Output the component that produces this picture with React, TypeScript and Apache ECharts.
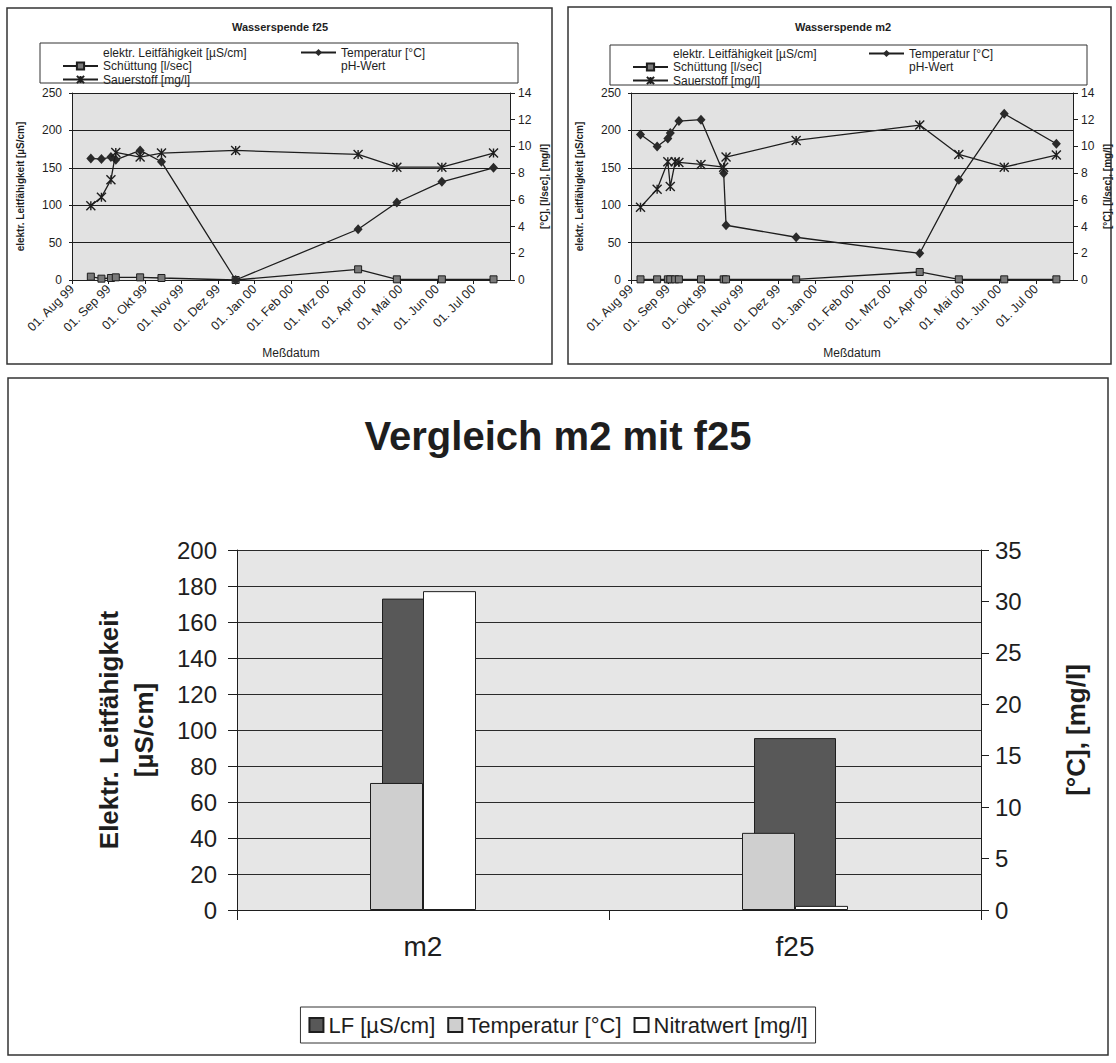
import React, { useEffect, useRef } from "react";
import * as echarts from "echarts";

// ---------- data ----------
const MONTH_LABELS = [
  "01. Aug 99", "01. Sep 99", "01. Okt 99", "01. Nov 99", "01. Dez 99", "01. Jan 00",
  "01. Feb 00", "01. Mrz 00", "01. Apr 00", "01. Mai 00", "01. Jun 00", "01. Jul 00",
];

const F25_DATES = [
  "1999-08-17", "1999-08-26", "1999-09-03", "1999-09-07", "1999-09-27", "1999-10-15",
  "1999-12-16", "2000-03-27", "2000-04-28", "2000-06-05", "2000-07-18",
];
const F25_TEMPERATUR = [9.1, 9.05, 9.2, 9.0, 9.7, 8.85, 0, 3.8, 5.8, 7.35, 8.4];
const F25_SCHUETTUNG = [0.25, 0.1, 0.15, 0.2, 0.2, 0.15, 0, 0.8, 0.05, 0.05, 0.05];
const F25_SAUERSTOFF = [5.55, 6.2, 7.5, 9.55, 9.2, 9.5, 9.7, 9.4, 8.45, 8.45, 9.5];

const M2_DATES = [
  "1999-08-09", "1999-08-23", "1999-09-01", "1999-09-03", "1999-09-07", "1999-09-10",
  "1999-09-28", "1999-10-17", "1999-10-19", "1999-12-16", "2000-03-27", "2000-04-28",
  "2000-06-05", "2000-07-18",
];
const M2_TEMPERATUR = [10.9, 10.0, 10.6, 11.0, null, 11.9, 12.0, 8.0, 4.1, 3.2, 2.0, 7.5, 12.45, 10.2];
const M2_SCHUETTUNG = [0.05, 0.05, 0.05, 0.05, 0.05, 0.05, 0.05, 0.05, 0.05, 0.05, 0.6, 0.05, 0.05, 0.05];
const M2_SAUERSTOFF = [5.45, 6.8, 8.85, 7.0, 8.85, 8.8, 8.65, 8.45, 9.2, 10.45, 11.6, 9.4, 8.45, 9.35];

const VERGLEICH_CATEGORIES = ["m2", "f25"];
const VERGLEICH_LF = [173, 95.5];
const VERGLEICH_TEMPERATUR = [12.35, 7.5];
const VERGLEICH_NITRAT = [31.0, 0.4];

// ---------- helpers ----------
const FONT = "'Liberation Sans', Arial, Helvetica, sans-serif";
const INK = "#1e1e1e";
const STAR = "path://M0,0L10,10M10,0L0,10M5,0L5,10";

function monthPos(d: string): number {
  const [y, m, day] = d.split("-").map(Number);
  const dim = new Date(y, m, 0).getDate();
  return (y - 1999) * 12 + (m - 8) + (day - 1) / dim;
}

function toPoints(dates: string[], vals: (number | null)[]) {
  const out: [number, number][] = [];
  dates.forEach((d, i) => {
    const v = vals[i];
    if (v != null) out.push([monthPos(d), v]);
  });
  return out;
}

const NAME_LF = "elektr. Leitfähigkeit [µS/cm]";
const NAME_T = "Temperatur [°C]";
const NAME_S = "Schüttung [l/sec]";
const NAME_PH = "pH-Wert";
const NAME_O = "Sauerstoff [mg/l]";

function topSeries(xi: number, yl: number, yr: number, dates: string[], temp: (number | null)[], sch: number[], sau: number[]) {
  const base = {
    type: "line",
    xAxisIndex: xi,
    showAllSymbol: true,
    lineStyle: { color: INK, width: 1.3 },
  };
  return [
    { ...base, name: NAME_LF, yAxisIndex: yl, data: [], symbol: "none", lineStyle: { opacity: 0 }, itemStyle: { opacity: 0 } },
    {
      ...base, name: NAME_T, yAxisIndex: yr, data: toPoints(dates, temp),
      symbol: "diamond", symbolSize: [9, 10], itemStyle: { color: "#2a2a2a" }, z: 4,
    },
    {
      ...base, name: NAME_S, yAxisIndex: yr, data: toPoints(dates, sch),
      symbol: "rect", symbolSize: 7, itemStyle: { color: "#7a7a7a", borderColor: INK, borderWidth: 1 }, z: 3,
    },
    { ...base, name: NAME_PH, yAxisIndex: yr, data: [], symbol: "none", lineStyle: { opacity: 0 }, itemStyle: { opacity: 0 } },
    {
      ...base, name: NAME_O, yAxisIndex: yr, data: toPoints(dates, sau),
      symbol: STAR, symbolSize: 9, itemStyle: { color: INK, borderColor: INK, borderWidth: 1.4 }, z: 5,
    },
  ];
}

function topXAxis(gi: number) {
  return {
    type: "value", gridIndex: gi, min: 0, max: 12, interval: 1,
    axisLine: { show: true, lineStyle: { color: INK, width: 1 } },
    axisTick: { show: true, length: 4, lineStyle: { color: INK } },
    splitLine: { show: false },
    axisLabel: {
      rotate: 45, fontSize: 12.5, color: INK, fontFamily: FONT, margin: 7,
      showMaxLabel: false,
      formatter: (v: number) => MONTH_LABELS[Math.round(v)] ?? "",
    },
    name: "Meßdatum", nameLocation: "middle", nameGap: 67,
    nameTextStyle: { fontSize: 12, color: INK, fontFamily: FONT },
  };
}

function topYAxes(gi: number) {
  return [
    {
      type: "value", gridIndex: gi, position: "left", min: 0, max: 250, interval: 50,
      axisLine: { show: true, lineStyle: { color: INK } },
      axisTick: { show: true, length: 3, lineStyle: { color: INK } },
      splitLine: { show: true, lineStyle: { color: INK, width: 1 } },
      axisLabel: { fontSize: 12, color: INK, fontFamily: FONT, margin: 10 },
      name: NAME_LF, nameLocation: "middle", nameGap: 47,
      nameTextStyle: { fontSize: 10, fontWeight: "bold", color: INK, fontFamily: FONT },
    },
    {
      type: "value", gridIndex: gi, position: "right", min: 0, max: 14, interval: 2,
      axisLine: { show: true, lineStyle: { color: INK } },
      axisTick: { show: true, length: 5, lineStyle: { color: INK } },
      splitLine: { show: false },
      axisLabel: { fontSize: 12, color: INK, fontFamily: FONT, margin: 8 },
      name: "[°C], [l/sec], [mg/l]", nameLocation: "middle", nameGap: 29,
      nameTextStyle: { fontSize: 10, fontWeight: "bold", color: INK, fontFamily: FONT },
    },
  ];
}

const hiddenItem = (name: string) => ({ name, itemStyle: { opacity: 0 }, lineStyle: { opacity: 0 } });

function topLegends(leftCol: number, rightCol: number, top: number) {
  const common = {
    orient: "vertical", top, itemWidth: 35, itemHeight: 9, itemGap: 0.5, padding: 0,
    selectedMode: false,
    textStyle: { fontSize: 12, color: INK, fontFamily: FONT, lineHeight: 13 },
  };
  return [
    { ...common, left: leftCol, data: [hiddenItem(NAME_LF), NAME_S, NAME_O] },
    { ...common, left: rightCol, data: [NAME_T, hiddenItem(NAME_PH)] },
  ];
}

const LEGEND_TEXT: Record<string, string> = {
  "LF [µS/cm]": "LF [µS/cm]",
  "Temp_vgl": "Temperatur [°C]",
  "Nitratwert [mg/l]": "Nitratwert [mg/l]",
};

export default function App() {
  const ref = useRef<HTMLDivElement>(null);

  useEffect(() => {
    if (!ref.current) return;
    const chart = echarts.init(ref.current, null, { renderer: "svg" });

    const option: any = {
      animation: false,
      backgroundColor: "#ffffff",
      textStyle: { fontFamily: FONT },
      title: [
        { text: "Wasserspende f25", left: 280, top: 21, textAlign: "center", padding: 0,
          textStyle: { fontSize: 11, fontWeight: "bold", color: INK, fontFamily: FONT } },
        { text: "Wasserspende m2", left: 843, top: 21, textAlign: "center", padding: 0,
          textStyle: { fontSize: 11, fontWeight: "bold", color: INK, fontFamily: FONT } },
        { text: "Vergleich m2 mit f25", left: 558, top: 416, textAlign: "center", padding: 0,
          textStyle: { fontSize: 40, fontWeight: "bold", color: INK, fontFamily: FONT } },
      ],
      graphic: [
        { type: "rect", shape: { x: 7, y: 8, width: 545, height: 356 }, style: { fill: "none", stroke: "#333", lineWidth: 1.5 }, z: -10 },
        { type: "rect", shape: { x: 568, y: 7, width: 543, height: 357 }, style: { fill: "none", stroke: "#333", lineWidth: 1.5 }, z: -10 },
        { type: "rect", shape: { x: 8, y: 378, width: 1100, height: 677 }, style: { fill: "none", stroke: "#333", lineWidth: 1.5 }, z: -10 },
        { type: "rect", shape: { x: 40, y: 43, width: 478, height: 40 }, style: { fill: "#fff", stroke: "#333", lineWidth: 1 }, z: -5 },
        { type: "rect", shape: { x: 610, y: 45, width: 477, height: 40 }, style: { fill: "#fff", stroke: "#333", lineWidth: 1 }, z: -5 },
      ],
      legend: [
        ...topLegends(62, 300, 46),
        ...topLegends(632, 868, 47),
        {
          left: "center", top: 1007, orient: "horizontal", icon: "rect",
          itemWidth: 14, itemHeight: 14, itemGap: 12, padding: [7, 8],
          borderColor: "#333", borderWidth: 1, selectedMode: false,
          textStyle: { fontSize: 22, color: INK, fontFamily: FONT },
          data: ["LF [µS/cm]", "Temp_vgl", "Nitratwert [mg/l]"],
          formatter: (n: string) => LEGEND_TEXT[n] ?? n,
        },
      ],
      grid: [
        { left: 72, top: 93, width: 438, height: 187, show: true, backgroundColor: "#e2e2e2", borderWidth: 0 },
        { left: 631, top: 93, width: 442, height: 187, show: true, backgroundColor: "#e2e2e2", borderWidth: 0 },
        { left: 237, top: 550, width: 744, height: 360, show: true, backgroundColor: "#e6e6e6", borderWidth: 0 },
      ],
      xAxis: [
        topXAxis(0),
        topXAxis(1),
        {
          type: "category", gridIndex: 2, data: VERGLEICH_CATEGORIES,
          axisLine: { show: true, lineStyle: { color: INK } },
          axisTick: { show: true, length: 10, lineStyle: { color: INK } },
          axisLabel: { fontSize: 28, color: INK, fontFamily: FONT, margin: 22 },
        },
        { type: "category", gridIndex: 2, data: VERGLEICH_CATEGORIES, show: false },
      ],
      yAxis: [
        ...topYAxes(0),
        ...topYAxes(1),
        {
          type: "value", gridIndex: 2, position: "left", min: 0, max: 200, interval: 20,
          axisLine: { show: true, lineStyle: { color: INK } },
          axisTick: { show: true, length: 9, lineStyle: { color: INK } },
          splitLine: { show: true, lineStyle: { color: "#2a2a2a", width: 1 } },
          axisLabel: { fontSize: 24, color: INK, fontFamily: FONT, margin: 20 },
          name: "Elektr. Leitfähigkeit\n[µS/cm]", nameLocation: "middle", nameGap: 76,
          nameTextStyle: { fontSize: 26, fontWeight: "bold", color: INK, fontFamily: FONT, lineHeight: 35 },
        },
        {
          type: "value", gridIndex: 2, position: "right", min: 0, max: 35, interval: 5,
          axisLine: { show: true, lineStyle: { color: INK } },
          axisTick: { show: true, length: 8, lineStyle: { color: INK } },
          splitLine: { show: false },
          axisLabel: { fontSize: 24, color: INK, fontFamily: FONT, margin: 14 },
          name: "[°C], [mg/l]", nameLocation: "middle", nameGap: 82,
          nameTextStyle: { fontSize: 26, fontWeight: "bold", color: INK, fontFamily: FONT },
        },
      ],
      series: [
        ...topSeries(0, 0, 1, F25_DATES, F25_TEMPERATUR, F25_SCHUETTUNG, F25_SAUERSTOFF),
        ...topSeries(1, 2, 3, M2_DATES, M2_TEMPERATUR, M2_SCHUETTUNG, M2_SAUERSTOFF),
        {
          name: "LF [µS/cm]", type: "bar", xAxisIndex: 2, yAxisIndex: 4,
          data: VERGLEICH_LF, barWidth: 82,
          itemStyle: { color: "#585858", borderColor: INK, borderWidth: 1 },
        },
        {
          name: "Temp_vgl", type: "bar", xAxisIndex: 3, yAxisIndex: 5,
          data: VERGLEICH_TEMPERATUR, barWidth: 53, barGap: "0%",
          itemStyle: { color: "#cfcfcf", borderColor: INK, borderWidth: 1 },
        },
        {
          name: "Nitratwert [mg/l]", type: "bar", xAxisIndex: 3, yAxisIndex: 5,
          data: VERGLEICH_NITRAT, barWidth: 53, barGap: "0%",
          itemStyle: { color: "#ffffff", borderColor: INK, borderWidth: 1 },
        },
      ],
    };

    chart.setOption(option);
    return () => chart.dispose();
  }, []);

  return (
    <div
      ref={ref}
      style={{ position: "absolute", left: 0, top: 0, width: 1116, height: 1063, background: "#fff" }}
    />
  );
}
